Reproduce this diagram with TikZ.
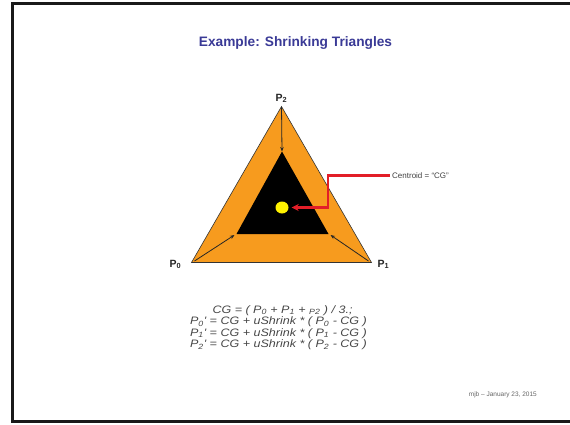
\documentclass[tikz,border=0pt]{standalone}
\usepackage{fontspec}
\setmainfont{Liberation Sans}
\newfontfamily\eqfont[FakeStretch=1.16]{Liberation Sans}
\usetikzlibrary{arrows.meta,calc,shapes.geometric}
\definecolor{titleblue}{RGB}{58,58,150}
\definecolor{tri}{RGB}{247,155,30}
\definecolor{cgred}{RGB}{226,30,40}
\definecolor{eqgray}{RGB}{70,70,70}
\tikzset{
  vlabel/.style={font=\bfseries\fontsize{10.5}{12}\selectfont, text=black!85, inner sep=0pt},
  shrinkarrow/.style={draw=black!85, line width=0.8pt, -{Stealth[length=4.5pt,width=3.5pt]}},
  frameline/.style={line width=2.6pt, draw=black!90},
  eqline/.style={font=\eqfont\itshape\fontsize{10.8}{11.5}\selectfont, text=eqgray, anchor=base, inner sep=0pt},
}
\begin{document}
\begin{tikzpicture}[x=1pt,y=-1pt]
\useasboundingbox (0,0) rectangle (570,424);
% frame
\draw[frameline] (600,3.3) -- (12.3,3.3) -- (12.3,421.7) -- (600,421.7);
% title
\node[font=\bfseries\fontsize{13.7}{16}\selectfont, text=titleblue, anchor=base] (title) at (295.5,46.5) {Example: Shrinking Triangles};
% outer triangle
\coordinate (P0) at (191.5,262.5);
\coordinate (P1) at (371.5,262.5);
\coordinate (P2) at (281.5,106.5);
\draw[fill=tri, draw=black!80, line width=0.6pt] (P0) -- (P1) -- (P2) -- cycle;
% inner triangle
\coordinate (Q0) at (236.5,234);
\coordinate (Q1) at (328.5,234);
\coordinate (Q2) at (282,151.5);
\fill[black] (Q0) -- (Q1) -- (Q2) -- cycle;
% shrink arrows
\draw[shrinkarrow] (P2) -- (Q2);
\draw[shrinkarrow] ($(P0)+(3,-1.5)$) -- ($(Q0)+(-2,1)$);
\draw[shrinkarrow] ($(P1)+(-3,-1.5)$) -- ($(Q1)+(2,1)$);
% centroid
\node[ellipse, fill=yellow, inner sep=0pt, minimum width=13pt, minimum height=12pt] (cg) at (282,207.5) {};
% vertex labels
\node[vlabel, anchor=base] (l2) at (281.5,101) {P\textsubscript{2}};
\node[vlabel, anchor=base] (l0) at (175.5,267) {P\textsubscript{0}};
\node[vlabel, anchor=base] (l1) at (383.5,267) {P\textsubscript{1}};
% centroid label
\node[font=\fontsize{8}{10}\selectfont, text=black!75, anchor=west, inner sep=0pt] (clab) at (392,175.5) {Centroid = “CG”};
\coordinate (bend) at (328,207.5);
\draw[cgred, line width=2.4pt, -{Stealth[length=7pt,width=7pt]}] ($(clab.west)+(-2,0)$) -| (bend) -- ($(cg.east)+(3,0)$);
% equations
\node[eqline] (eq1) at (282.5,313.3) {CG = ( P\textsubscript{0} + P\textsubscript{1} + \textsubscript{P2} ) / 3.;};
\node[eqline] (eq2) at (278.5,324.8) {P\textsubscript{0}' = CG + uShrink * ( P\textsubscript{0} - CG )};
\node[eqline] (eq3) at (278.5,336.3) {P\textsubscript{1}' = CG + uShrink * ( P\textsubscript{1} - CG )};
\node[eqline] (eq4) at (278.5,347.8) {P\textsubscript{2}' = CG + uShrink * ( P\textsubscript{2} - CG )};
% footer
\node[font=\fontsize{6.5}{7.5}\selectfont, text=black!60, anchor=east, inner sep=0pt] (foot) at (537,395) {mjb – January 23, 2015};
\end{tikzpicture}
\end{document}
